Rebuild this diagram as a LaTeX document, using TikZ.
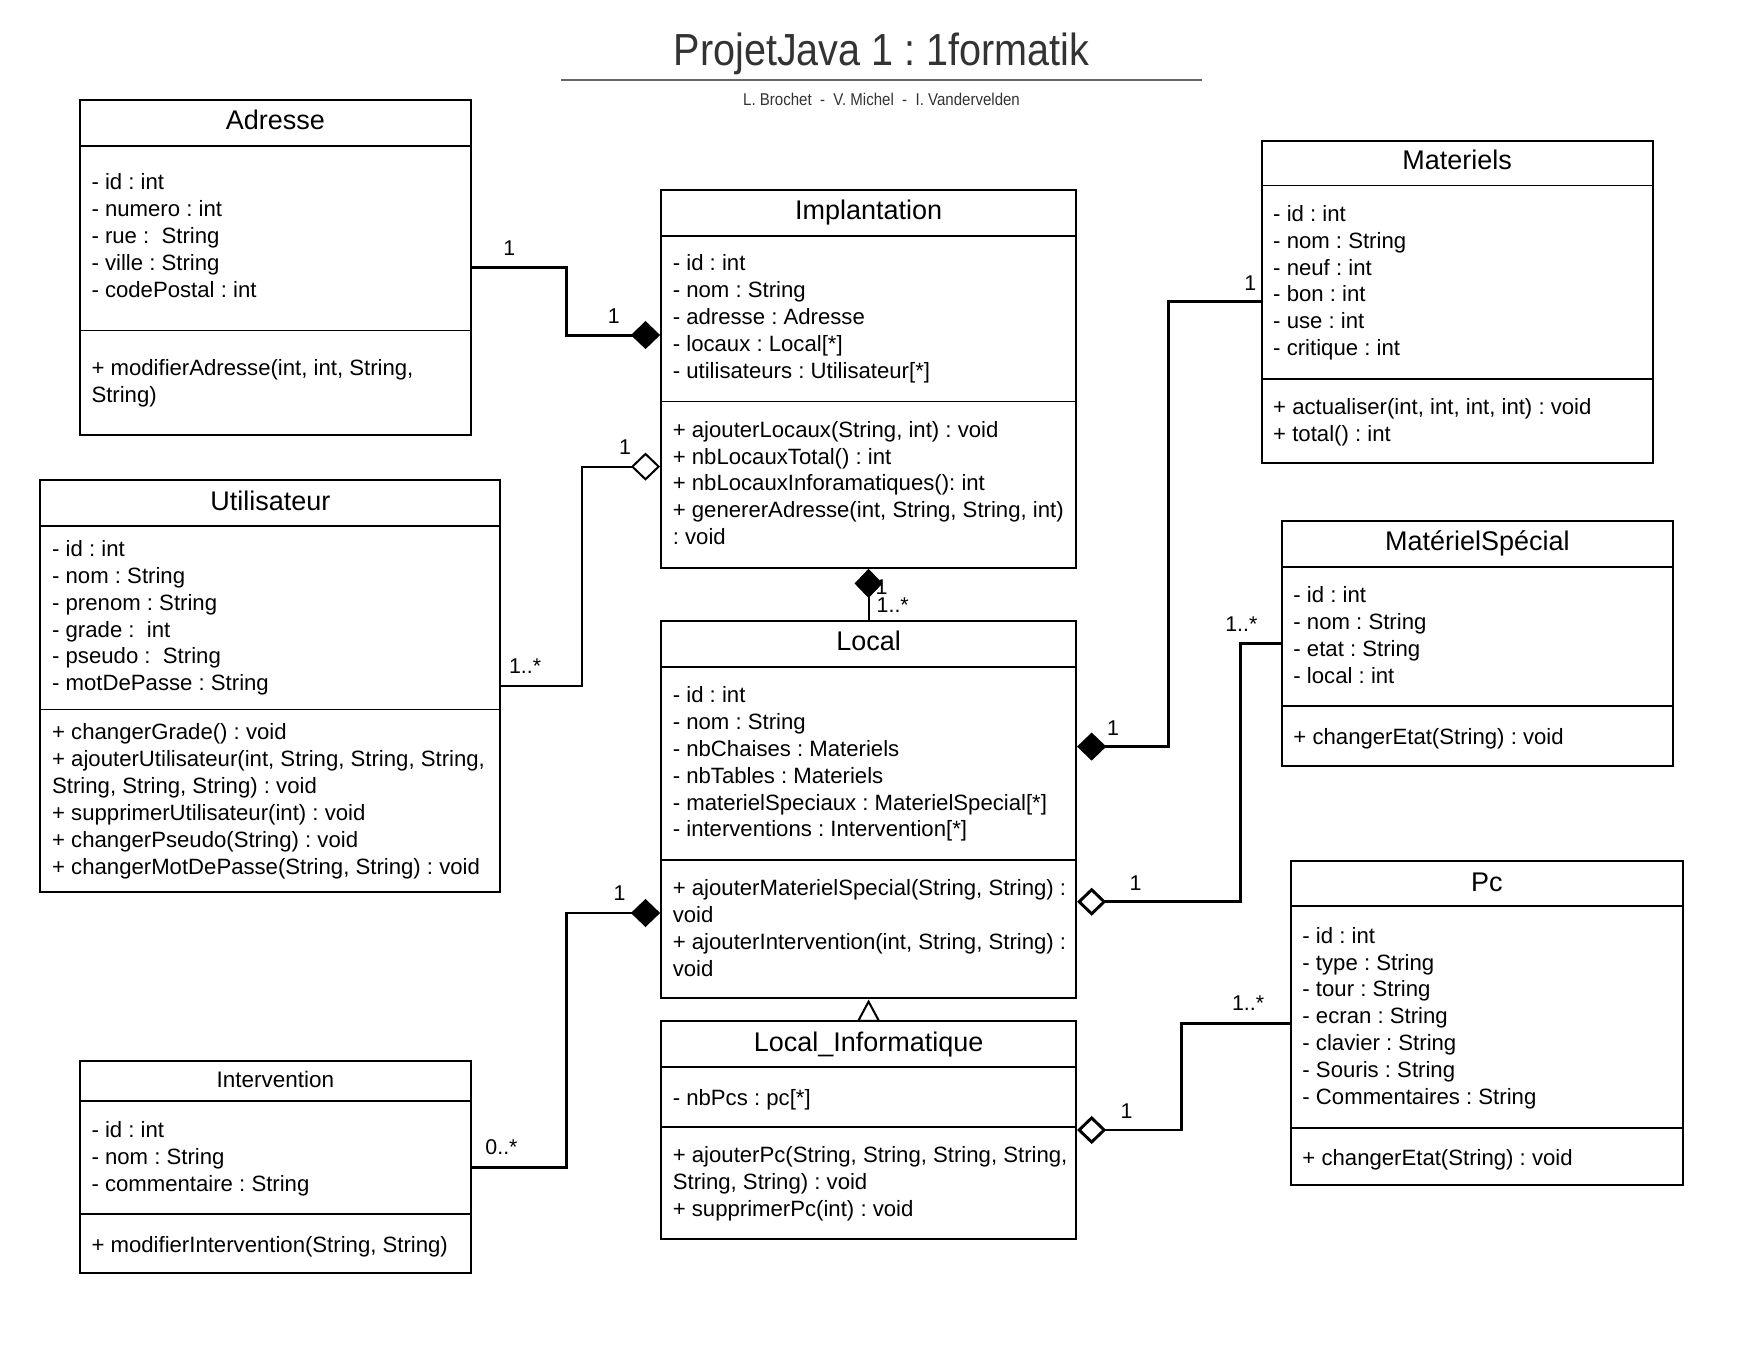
\documentclass[tikz,border=0pt]{standalone}
\usepackage{fontspec}
\setmainfont{Liberation Sans}
\newfontfamily\narrowfont[FakeStretch=0.88]{Liberation Sans}
\usetikzlibrary{arrows.meta,positioning,fit}
\frenchspacing
\definecolor{tgray}{HTML}{333333}
\definecolor{lgray}{HTML}{666666}
\tikzset{
  % class box and its compartments
  cls/.style   = {draw, line width=0.9pt, inner sep=0pt},
  sep/.style   = {line width=0.8pt},
  ttl/.style   = {anchor=base, yshift=-4.3pt, font=\fontsize{12}{14}\selectfont},
  sttl/.style  = {anchor=base, yshift=-3.6pt, font=\fontsize{10}{12}\selectfont},
  body/.style  = {anchor=north west, yshift=3.4pt, inner sep=0pt, align=left,
                  font=\fontsize{9.85}{11.95}\selectfont, execute at begin node=\strut},
  mult/.style  = {anchor=base, yshift=-3.4pt, inner sep=0pt, font=\fontsize{9.5}{11}\selectfont},
  % associations
  comp/.style  = {-{Diamond[length=13pt,width=12.5pt]}, line width=1.3pt},
  aggr/.style  = {-{Diamond[open,length=13pt,width=12.5pt]}, line width=1.3pt},
  gen/.style   = {-{Triangle[open,length=10pt,width=10.5pt]}, line width=0.9pt},
}
\begin{document}
\begin{tikzpicture}[x=0.5pt, y=-0.5pt]
\useasboundingbox (0,0) rectangle (1568,1210);
% heading
\node[font=\narrowfont\fontsize{20}{24}\selectfont, text=tgray, anchor=base, yshift=-7.2pt] (title) at (784,44) {ProjetJava 1 : 1formatik};
\draw[lgray, line width=1pt] (499,71) -- (1069,71);
\node[font=\narrowfont\fontsize{7.6}{9}\selectfont, text=tgray, anchor=base, yshift=-2.7pt] (authors) at (784,88) {L. Brochet~~-~~V. Michel~~-~~I. Vandervelden};
% Adresse
\node[cls, fit={(71,89) (419,387)}] (adresse) {};
\draw[sep] (71,130) -- (419,130);
\draw[sep] (71,294) -- (419,294);
\node[ttl] (adresse-n) at (245,107) {Adresse};
\node[body] (adresse-a) at (81,161) {- id : int\\- numero : int\\- rue :~ String\\- ville : String\\- codePostal : int};
\node[body] (adresse-m) at (81,326) {+ modifierAdresse(int, int, String,\\String)};
% Implantation
\node[cls, fit={(588,169) (957,505)}] (impl) {};
\draw[sep] (588,210) -- (957,210);
\draw[sep] (588,357) -- (957,357);
\node[ttl] (impl-n) at (772.5,187) {Implantation};
\node[body] (impl-a) at (598,233) {- id : int\\- nom : String\\- adresse : Adresse\\- locaux : Local[*]\\- utilisateurs : Utilisateur[*]};
\node[body] (impl-m) at (598,381) {+ ajouterLocaux(String, int) : void\\+ nbLocauxTotal() : int\\+ nbLocauxInforamatiques(): int\\+ genererAdresse(int, String, String, int)\\: void};
% Materiels
\node[cls, fit={(1122,125) (1470,412)}] (mat) {};
\draw[sep] (1122,165) -- (1470,165);
\draw[sep] (1122,337) -- (1470,337);
\node[ttl] (mat-n) at (1296,142) {Materiels};
\node[body] (mat-a) at (1132,189) {- id : int\\- nom : String\\- neuf : int\\- bon : int\\- use : int\\- critique : int};
\node[body] (mat-m) at (1132,361) {+ actualiser(int, int, int, int) : void\\+ total() : int};
% Utilisateur
\node[cls, fit={(36,427) (445,793)}] (util) {};
\draw[sep] (36,468) -- (445,468);
\draw[sep] (36,631) -- (445,631);
\node[ttl] (util-n) at (240.5,445) {Utilisateur};
\node[body] (util-a) at (46,487) {- id : int\\- nom : String\\- prenom : String\\- grade :~ int\\- pseudo :~ String\\- motDePasse : String};
\node[body] (util-m) at (46,650) {+ changerGrade() : void\\+ ajouterUtilisateur(int, String, String, String,\\String, String, String) : void\\+ supprimerUtilisateur(int) : void\\+ changerPseudo(String) : void\\+ changerMotDePasse(String, String) : void};
% MaterielSpecial
\node[cls, fit={(1140,463) (1488,681)}] (spec) {};
\draw[sep] (1140,504) -- (1488,504);
\draw[sep] (1140,628) -- (1488,628);
\node[ttl] (spec-n) at (1314,481) {MatérielSpécial};
\node[body] (spec-a) at (1150,528) {- id : int\\- nom : String\\- etat : String\\- local : int};
\node[body] (spec-m) at (1150,652) {+ changerEtat(String) : void};
% Local
\node[cls, fit={(588,552) (957,888)}] (local) {};
\draw[sep] (588,593) -- (957,593);
\draw[sep] (588,765) -- (957,765);
\node[ttl] (local-n) at (772.5,570) {Local};
\node[body] (local-a) at (598,617) {- id : int\\- nom : String\\- nbChaises : Materiels\\- nbTables : Materiels\\- materielSpeciaux : MaterielSpecial[*]\\- interventions : Intervention[*]};
\node[body] (local-m) at (598,789) {+ ajouterMaterielSpecial(String, String) :\\void\\+ ajouterIntervention(int, String, String) :\\void};
% Pc
\node[cls, fit={(1148,766) (1497,1054)}] (pc) {};
\draw[sep] (1148,806) -- (1497,806);
\draw[sep] (1148,1003) -- (1497,1003);
\node[ttl] (pc-n) at (1322.5,784) {Pc};
\node[body] (pc-a) at (1158,831) {- id : int\\- type : String\\- tour : String\\- ecran : String\\- clavier : String\\- Souris : String\\- Commentaires : String};
\node[body] (pc-m) at (1158,1026) {+ changerEtat(String) : void};
% Local_Informatique
\node[cls, fit={(588,908) (957,1102)}] (locinfo) {};
\draw[sep] (588,949) -- (957,949);
\draw[sep] (588,1002) -- (957,1002);
\node[ttl] (locinfo-n) at (772.5,927) {Local\_Informatique};
\node[body] (locinfo-a) at (598,973) {- nbPcs : pc[*]};
\node[body] (locinfo-m) at (598,1026) {+ ajouterPc(String, String, String, String,\\String, String) : void\\+ supprimerPc(int) : void};
% Intervention
\node[cls, fit={(71,944) (419,1132)}] (interv) {};
\draw[sep] (71,979) -- (419,979);
\draw[sep] (71,1080) -- (419,1080);
\node[sttl] (interv-n) at (245,960) {Intervention};
\node[body] (interv-a) at (81,1004) {- id : int\\- nom : String\\- commentaire : String};
\node[body] (interv-m) at (81,1104) {+ modifierIntervention(String, String)};
% multiplicities
\node[mult] (m-adr) at (453,220) {1};
\node[mult] (m-adr2) at (546,281) {1};
\node[mult] (m-util) at (467,592) {1..*};
\node[mult] (m-util2) at (556,397) {1};
\node[mult] (m-loc) at (784,522) {1};
\node[mult] (m-loc2) at (794,538) {1..*};
\node[mult] (m-mat) at (1112,252) {1};
\node[mult] (m-mat2) at (990,647) {1};
\node[mult] (m-spec) at (1104,555) {1..*};
\node[mult] (m-spec2) at (1010,785) {1};
\node[mult] (m-pc) at (1110,892) {1..*};
\node[mult] (m-pc2) at (1002,988) {1};
\node[mult] (m-int) at (446,1020) {0..*};
\node[mult] (m-int2) at (551,794) {1};
% links
\draw[comp] (adresse.east) -- ++(84,0) |- ([yshift=19.5pt]impl.west);
\draw[aggr, line width=0.9pt] (util.east) -- ++(72,0) |- ([yshift=-39pt]impl.west);
\draw[comp, line width=0.9pt] (local.north) -- (impl.south);
\draw[comp] (mat.west) -- ++(-82,0) |- ([yshift=28pt]local.east);
\draw[aggr] (spec.west) -- ++(-36,0) |- ([yshift=-41pt]local.east);
\draw[aggr] (pc.west) -- ++(-96,0) |- (locinfo.east);
\draw[gen] (locinfo.north) -- (local.south);
\draw[comp] (interv.east) -- ++(84,0) |- ([yshift=-46pt]local.west);
\end{tikzpicture}
\end{document}
